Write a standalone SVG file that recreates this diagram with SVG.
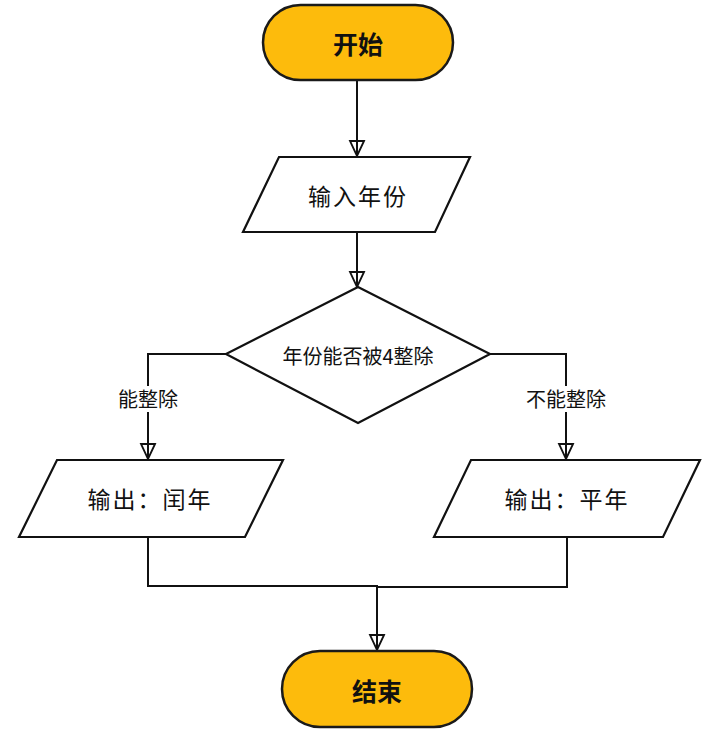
<svg xmlns="http://www.w3.org/2000/svg" width="714" height="740" viewBox="0 0 714 740">
<style>
.term{fill:#FDBB0C;stroke:#1a1a1a;stroke-width:2.5}
.box{fill:#fff;stroke:#111;stroke-width:2.2}
.conn{fill:none;stroke:#111;stroke-width:2}
.tt{font-family:"Noto Sans CJK SC","Noto Sans",sans-serif;font-weight:bold;font-size:25px;fill:#111;text-anchor:middle;dominant-baseline:central}
.bt{font-family:"Noto Sans CJK SC","Noto Sans",sans-serif;font-size:23px;fill:#111;text-anchor:middle;dominant-baseline:central;letter-spacing:2px}
.dt{font-family:"Noto Sans CJK SC","Noto Sans",sans-serif;font-size:20px;fill:#111;text-anchor:middle;dominant-baseline:central}
.lb{font-family:"Noto Sans CJK SC","Noto Sans",sans-serif;font-size:20px;fill:#111;text-anchor:middle;dominant-baseline:central}
</style>
<defs>
<marker id="arr" markerUnits="userSpaceOnUse" markerWidth="18" markerHeight="18" refX="16" refY="8" orient="auto" viewBox="0 0 18 16">
<path d="M1,1 L16,8 L1,15 Z" fill="none" stroke="#111" stroke-width="1.8"/>
</marker>
</defs>
<rect width="714" height="740" fill="#fff"/>
<g id="connectors">
<path class="conn" d="M357,80 L357,156" marker-end="url(#arr)"/>
<path class="conn" d="M357,232 L357,287" marker-end="url(#arr)"/>
<path class="conn" d="M226,354 L148,354 L148,459" marker-end="url(#arr)"/>
<path class="conn" d="M490,354 L566,354 L566,459" marker-end="url(#arr)"/>
<path class="conn" d="M148,537 L148,586 L377,586 L377,650" marker-end="url(#arr)"/>
<path class="conn" d="M567,537 L567,587 L377,587"/>
<rect x="112" y="386" width="72" height="26" fill="#fff"/>
<text class="lb" x="148" y="398">能整除</text>
<rect x="521" y="386" width="90" height="26" fill="#fff"/>
<text class="lb" x="566" y="398">不能整除</text>
</g>
<g id="start">
<rect class="term" x="263" y="5" width="190" height="75" rx="37.5"/>
<text class="tt" x="358" y="43">开始</text>
</g>
<g id="input">
<polygon class="box" points="279,157 470,157 435,232 243,232"/>
<text class="bt" x="358" y="195">输入年份</text>
</g>
<g id="decision">
<polygon class="box" points="358,287 490,354 358,423 226,354"/>
<text class="dt" x="358" y="355">年份能否被4整除</text>
</g>
<g id="leap">
<polygon class="box" points="57,460 283,460 245,537 19,537"/>
<text class="bt" x="150" y="498">输出：闰年</text>
</g>
<g id="common">
<polygon class="box" points="471,460 700,460 663,537 434,537"/>
<text class="bt" x="567" y="498">输出：平年</text>
</g>
<g id="end">
<rect class="term" x="282" y="651" width="190" height="76" rx="38"/>
<text class="tt" x="377" y="690">结束</text>
</g>
</svg>
